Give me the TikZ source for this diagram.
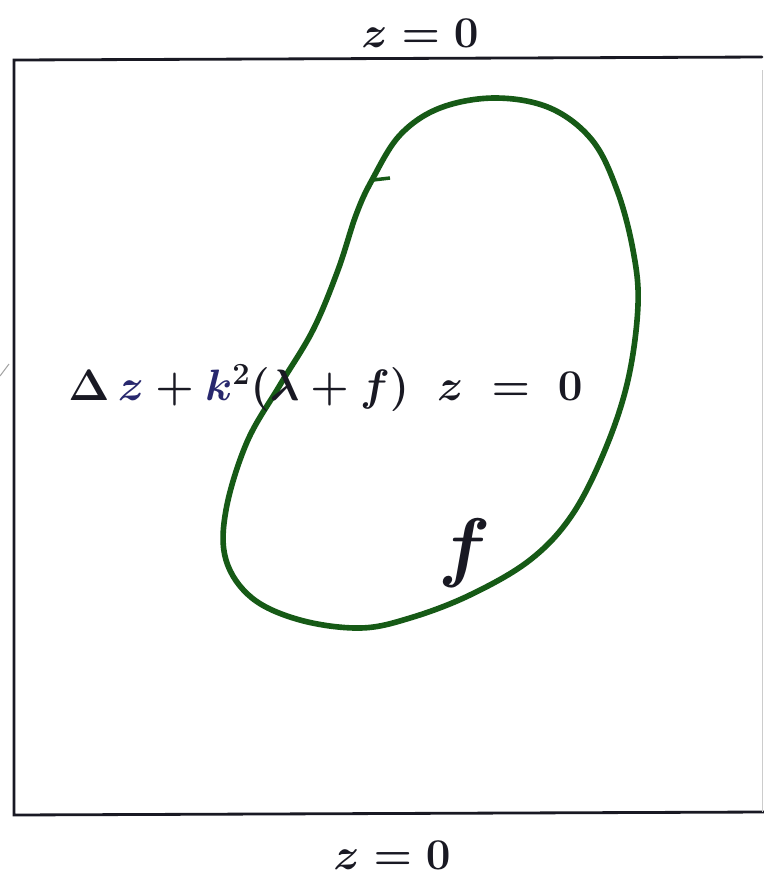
\RequirePackage{fix-cm}
\documentclass[tikz,border=0pt]{standalone}
\usepackage{amsmath}
\definecolor{blobgreen}{RGB}{22,90,22}
\definecolor{penblack}{RGB}{25,25,35}
\definecolor{penblue}{RGB}{40,40,110}
\tikzset{
  frame/.style={draw=penblack, line width=1.6pt, line cap=round},
  blob/.style={draw=blobgreen, line width=3.2pt, line join=round},
  eqtext/.style={text=penblack, inner sep=0pt, font=\fontsize{25}{30}\selectfont\boldmath},
  bctext/.style={text=penblack, inner sep=0pt, font=\fontsize{25}{30}\selectfont\boldmath},
  bigf/.style={text=penblack, inner sep=0pt, font=\fontsize{44}{50}\selectfont\boldmath},
}
\begin{document}
\begin{tikzpicture}[x=0.02cm, y=-0.02cm]
\useasboundingbox (0,0) rectangle (764,877);
\fill[white] (0,0) rectangle (764,877);
% frame
\coordinate (tl) at (14,60);
\coordinate (tr) at (762,57);
\coordinate (bl) at (14,815);
\coordinate (br) at (764,812);
\draw[frame] (tr) -- (tl) -- (bl) -- (br);
\draw[draw=gray!40, line width=0.5pt] (762,70) -- (762,812);
% stray mark at left
\coordinate (m1) at (0,376);
\coordinate (m2) at (9,364);
\draw[draw=gray!70, line width=0.6pt] (m1) -- (m2);
% green region
\draw[blob] plot[smooth cycle, tension=0.6] coordinates {
 (495,98) (550,108) (592,140) (617,190) (633,250) (638,305) (628,380)
 (605,450) (572,515) (530,560) (470,595) (410,618) (360,628) (300,620)
 (252,598) (226,560) (226,510) (247,442) (280,385) (313,330) (338,270)
 (356,215) (372,180) (400,135) (440,108)};
\coordinate (n1) at (373,180);
\coordinate (n2) at (390,178);
\draw[blob, line width=2pt] (n1) -- (n2);
% texts
\node[bctext] (top) at (420,33) {$z = 0$};
\node[bctext] (bottom) at (392,855) {$z = 0$};
\node[eqtext, anchor=west] (eq) at (68,388) {$\Delta\, {\color{penblue}z} + {\color{penblue}k}^{2}(\lambda + f)\;\; z \;=\; 0$};
\node[bigf] (f) at (465,553) {$f$};
\end{tikzpicture}
\end{document}
